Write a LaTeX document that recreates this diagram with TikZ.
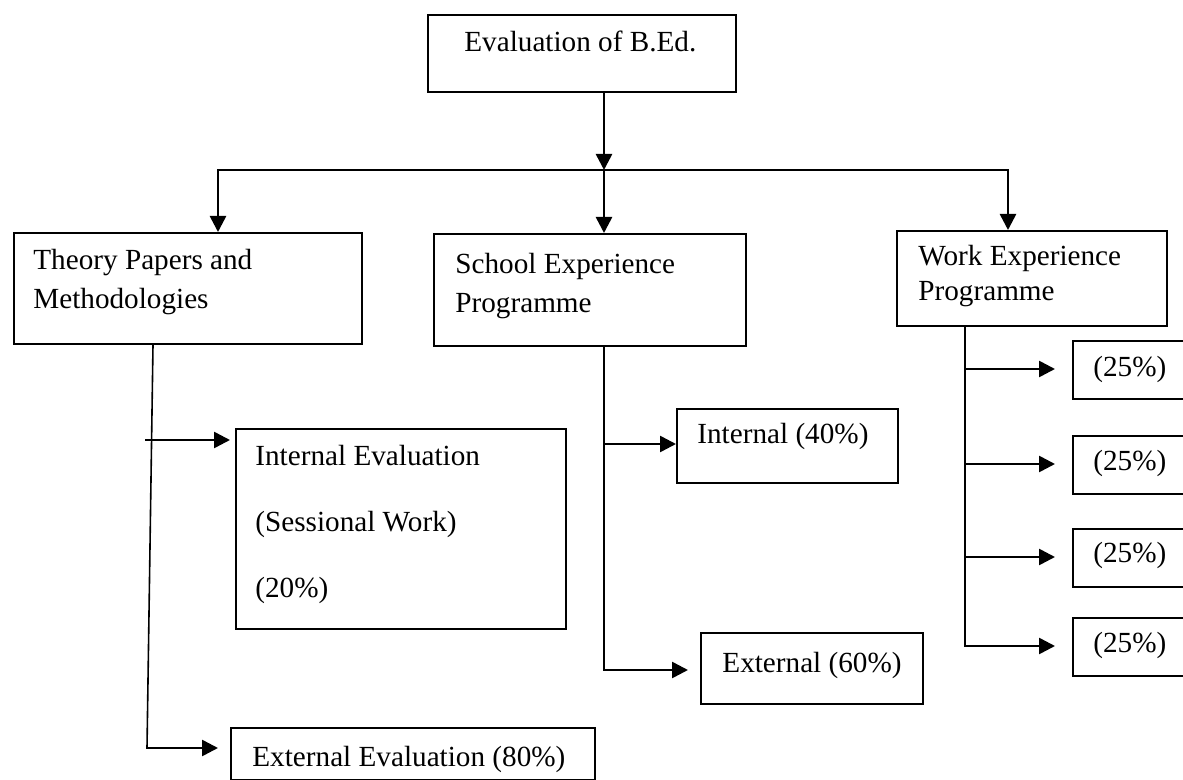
\documentclass[tikz,border=0pt]{standalone}
\usepackage{fontspec}
\setmainfont{Liberation Serif}
\usetikzlibrary{arrows.meta,calc}
\begin{document}
\begin{tikzpicture}[x=0.5pt,y=-0.5pt,
  box/.style={draw, line width=1pt, anchor=north west, inner sep=0pt, rectangle},
  txt/.style={anchor=base west, inner sep=0pt, font=\fontsize{14.6pt}{18pt}\selectfont},
  ln/.style={line width=0.8pt, line cap=rect},
  arr/.style={line width=1.3pt, -{Triangle[length=8pt,width=8pt]}},
]
\useasboundingbox (0,0) rectangle (1183,780);
\clip (0,0) rectangle (1183,780);
\fill[white] (0,0) rectangle (1183,780);

% boxes
\node[box, minimum width=154pt, minimum height=38.5pt] (top) at (427,14) {};
\node[box, minimum width=174pt, minimum height=55.5pt] (th) at (13,232) {};
\node[box, minimum width=156pt, minimum height=56pt] (sc) at (433,233) {};
\node[box, minimum width=135pt, minimum height=47.5pt] (wk) at (896,230) {};
\node[box, minimum width=165pt, minimum height=100pt] (ie) at (235,428) {};
\node[box, minimum width=182pt, minimum height=26pt] (ee) at (230,727) {};
\node[box, minimum width=110.5pt, minimum height=37pt] (i40) at (676,408) {};
\node[box, minimum width=111pt, minimum height=35.5pt] (e60) at (700,632) {};
\node[box, minimum width=60pt, minimum height=29pt] (p1) at (1072,340) {};
\node[box, minimum width=60pt, minimum height=29pt] (p2) at (1072,435) {};
\node[box, minimum width=60pt, minimum height=29pt] (p3) at (1072,528) {};
\node[box, minimum width=60pt, minimum height=29pt] (p4) at (1072,617) {};

% texts
\node[txt] (ttop) at (464,52) {Evaluation of B.Ed.};
\node[txt] (tth1) at (33,270) {Theory Papers and};
\node[txt] (tth2) at (33,309) {Methodologies};
\node[txt] (tsc1) at (455,274) {School Experience};
\node[txt] (tsc2) at (455,313) {Programme};
\node[txt] (twk1) at (918,266) {Work Experience};
\node[txt] (twk2) at (918,301) {Programme};
\node[txt] (tie1) at (255,466) {Internal Evaluation};
\node[txt] (tie2) at (255,531) {(Sessional Work)};
\node[txt] (tie3) at (255,597) {(20\%)};
\node[txt] (tee) at (252,766) {External Evaluation (80\%)};
\node[txt] (ti40) at (697,444) {Internal (40\%)};
\node[txt] (te60) at (722,672) {External (60\%)};
\node[txt] (tp1) at (1093,377) {(25\%)};
\node[txt] (tp2) at (1093,471) {(25\%)};
\node[txt] (tp3) at (1093,562) {(25\%)};
\node[txt] (tp4) at (1093,652) {(25\%)};

% junction coordinates
\coordinate (hub) at (604,170);
\coordinate (hl) at (218,170);
\coordinate (hr) at (1008,170);
\coordinate (tb) at (153,0);
\coordinate (ti) at (145,440);
\coordinate (tj) at (147,748);
\coordinate (sj1) at (604,444);
\coordinate (sj2) at (604,670);
\coordinate (w1) at (965,369);
\coordinate (w2) at (965,464);
\coordinate (w3) at (965,557);
\coordinate (w4) at (965,646);

% top level connectors
\draw[arr] (top.south -| hub) -- (hub);
\draw[line width=1pt, line cap=rect] (hl) -- (hr);
\draw[arr] (hl) -- (hl |- th.north);
\draw[arr] (hub) -- (hub |- sc.north);
\draw[arr] (hr) -- (hr |- wk.north);

% theory branch
\draw[ln] (th.south -| tb) -- (tj);
\draw[arr, shorten >=2.5pt] (ti) -- (ti -| ie.west);
\draw[arr, shorten >=6pt, line cap=rect] (tj) -- (tj -| ee.west);

% school branch
\draw[ln] (sc.south -| sj1) -- (sj2);
\draw[arr] (sj1) -- (sj1 -| i40.west);
\draw[arr, shorten >=6pt, line cap=rect] (sj2) -- (sj2 -| e60.west);

% work branch
\draw[ln] (wk.south -| w1) -- (w4);
\draw[arr, shorten >=8.5pt] (w1) -- (w1 -| p1.west);
\draw[arr, shorten >=8.5pt] (w2) -- (w2 -| p2.west);
\draw[arr, shorten >=8.5pt] (w3) -- (w3 -| p3.west);
\draw[arr, shorten >=8.5pt, line cap=rect] (w4) -- (w4 -| p4.west);
\end{tikzpicture}
\end{document}
